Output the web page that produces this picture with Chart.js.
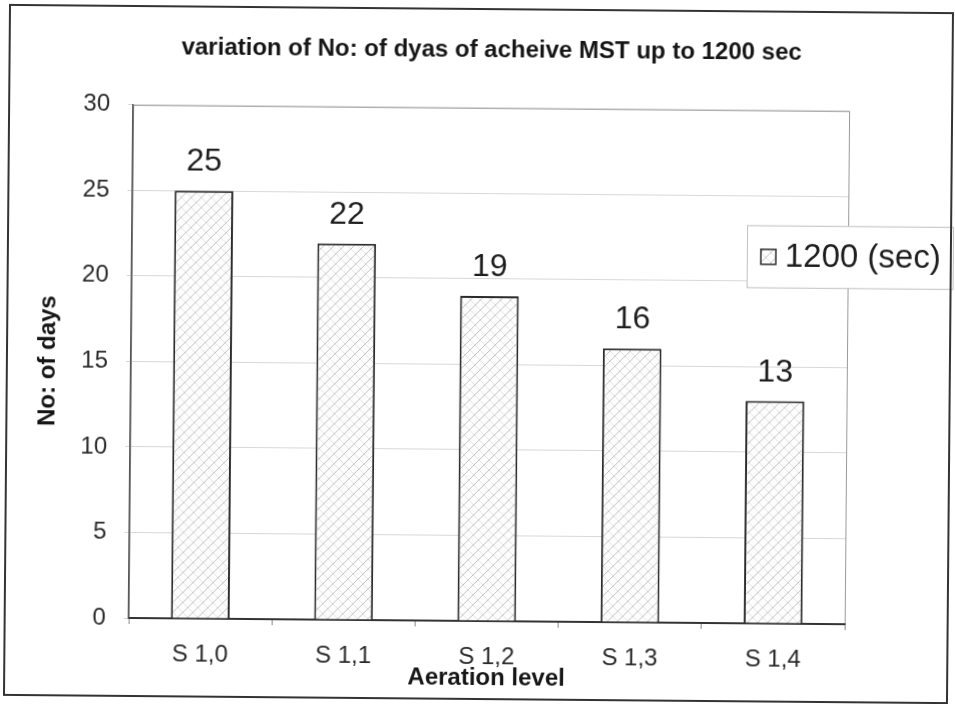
<!DOCTYPE html>
<html>
<head>
<meta charset="utf-8">
<script src="https://cdn.jsdelivr.net/npm/chart.js@4/dist/chart.umd.min.js"></script>
<style>
  html, body { margin: 0; padding: 0; background: #fff; overflow: hidden; }
  /* the printed sheet sits slightly askew */
  canvas { display: block; transform: rotate(0.5deg); transform-origin: 50% 50%; }
</style>
</head>
<body>
<canvas id="chart" width="955" height="704"></canvas>
<script>
// Aeration levels and days needed to reach MST of 1200 s
const categories = ['S 1,0', 'S 1,1', 'S 1,2', 'S 1,3', 'S 1,4'];
const days1200 = [25, 22, 19, 16, 13];
const seriesName = '1200 (sec)';
const yMin = 0, yMax = 30, yStep = 5;

const FONT = '"Liberation Sans", Arial, Helvetica, sans-serif';

// Light diagonal cross-hatch used for the bars
function makeHatch() {
  const s = 10;
  const c = document.createElement('canvas');
  c.width = s; c.height = s;
  const g = c.getContext('2d');
  g.fillStyle = '#fdfdfd';
  g.fillRect(0, 0, s, s);
  g.lineWidth = 1;
  g.strokeStyle = '#e4e4e4';
  g.beginPath();
  g.moveTo(0, 0); g.lineTo(s, s);
  g.stroke();
  g.strokeStyle = '#c2c2c2';
  g.beginPath();
  g.moveTo(-1, s + 1); g.lineTo(s + 1, -1);
  g.moveTo(-1, 1); g.lineTo(1, -1);
  g.moveTo(s - 1, s + 1); g.lineTo(s + 1, s - 1);
  g.stroke();
  return g.createPattern(c, 'repeat');
}
const hatch = makeHatch();

// Outer frame, plot-area box and the boxed legend
const framePlugin = {
  id: 'frame',
  beforeDraw(chart) {
    const { ctx, width, height, chartArea: a } = chart;
    ctx.save();
    ctx.fillStyle = '#fff';
    ctx.fillRect(0, 0, width, height);
    ctx.strokeStyle = '#9a9a9a';
    ctx.lineWidth = 1;
    ctx.strokeRect(a.left + 0.5, a.top + 0.5, a.right - a.left, a.bottom - a.top);
    ctx.restore();
  },
  afterDraw(chart) {
    const { ctx, width, height, chartArea: a } = chart;
    ctx.save();
    // legend box, straddling the right edge of the plot area
    const lx = a.right - 101, ly = a.top + 115, lw = 206, lh = 62;
    ctx.fillStyle = '#fff';
    ctx.fillRect(lx, ly, lw, lh);
    ctx.strokeStyle = '#c0c0c0';
    ctx.lineWidth = 1;
    ctx.strokeRect(lx + 0.5, ly + 0.5, lw, lh);
    ctx.fillStyle = hatch;
    ctx.fillRect(lx + 14, ly + 24, 15, 15);
    ctx.strokeStyle = '#2b2b2b';
    ctx.lineWidth = 1.5;
    ctx.strokeRect(lx + 14, ly + 24, 15, 15);
    ctx.fillStyle = '#1e1e1e';
    ctx.font = '33px ' + FONT;
    ctx.textBaseline = 'middle';
    ctx.textAlign = 'left';
    ctx.fillText(chart.data.datasets[0].label, lx + 38, ly + 32);
    // outer frame
    ctx.strokeStyle = '#333';
    ctx.lineWidth = 2;
    ctx.strokeRect(7, 9, width - 12, height - 14);
    ctx.restore();
  }
};

// Value labels above each bar
const valueLabels = {
  id: 'valueLabels',
  afterDatasetsDraw(chart) {
    const { ctx } = chart;
    const meta = chart.getDatasetMeta(0);
    const data = chart.data.datasets[0].data;
    ctx.save();
    ctx.fillStyle = '#1e1e1e';
    ctx.font = '32px ' + FONT;
    ctx.textAlign = 'center';
    ctx.textBaseline = 'alphabetic';
    meta.data.forEach((bar, i) => {
      ctx.fillText(String(data[i]), bar.x, bar.y - 20);
    });
    ctx.restore();
  }
};

new Chart(document.getElementById('chart'), {
  type: 'bar',
  data: {
    labels: categories,
    datasets: [{
      label: seriesName,
      data: days1200,
      backgroundColor: hatch,
      borderColor: '#2b2b2b',
      borderWidth: 2,
      categoryPercentage: 1,
      barPercentage: 0.41
    }]
  },
  options: {
    responsive: false,
    animation: false,
    layout: { padding: { left: 0, right: 108, top: 0, bottom: 0 } },
    plugins: {
      legend: { display: false },
      tooltip: { enabled: false },
      title: {
        display: true,
        fullSize: false,
        text: 'variation of No: of dyas of acheive MST up to 1200 sec',
        color: '#161616',
        font: { family: FONT, size: 24, weight: 'bold' },
        padding: { top: 36, bottom: 43 }
      }
    },
    scales: {
      x: {
        afterFit(scale) { scale.height = 83; },
        grid: { display: true, offset: true, drawOnChartArea: false, tickLength: 6, color: '#888' },
        border: { display: true, color: '#333', width: 2 },
        ticks: { color: '#2a2a2a', font: { family: FONT, size: 24 }, padding: 16 },
        title: {
          display: true,
          text: 'Aeration level',
          color: '#161616',
          font: { family: FONT, size: 24, weight: 'bold' },
          padding: { top: 0, bottom: 11 }
        }
      },
      y: {
        min: yMin,
        max: yMax,
        afterFit(scale) { scale.width = 131; },
        grid: { color: '#d8d8d8', tickLength: 5 },
        border: { display: true, color: '#555', width: 1.5 },
        ticks: { stepSize: yStep, color: '#2a2a2a', font: { family: FONT, size: 24 }, padding: 18 },
        title: {
          display: true,
          text: 'No: of days',
          color: '#161616',
          font: { family: FONT, size: 24, weight: 'bold' },
          padding: { top: 34, bottom: 0 }
        }
      }
    }
  },
  plugins: [framePlugin, valueLabels]
});
</script>
</body>
</html>
